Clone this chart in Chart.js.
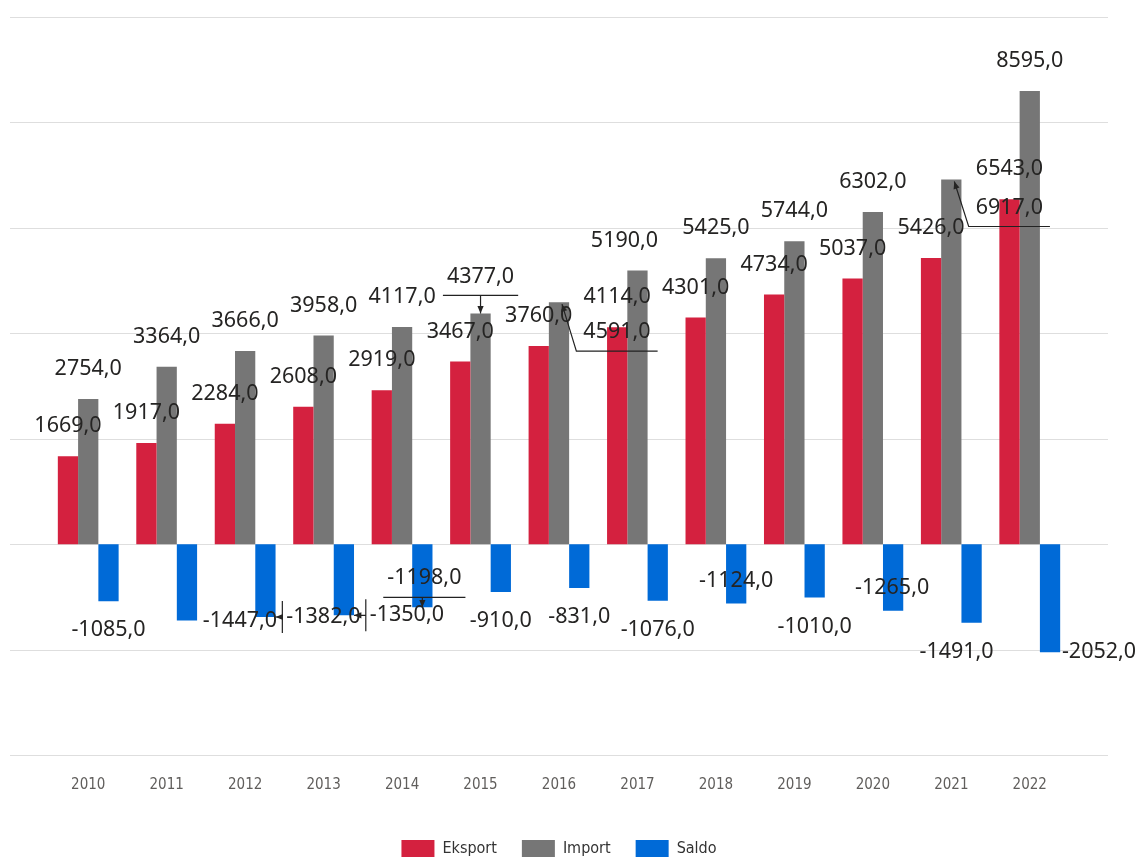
<!DOCTYPE html>
<html>
<head>
<meta charset="utf-8">
<script src="https://cdn.jsdelivr.net/npm/chart.js@4/dist/chart.umd.min.js"></script>
<style>
    html, body { margin: 0; padding: 0; background: #ffffff; }
    #wrap { width: 1143px; height: 857px; position: relative; }
</style>
</head>
<body>
<div id="wrap"><canvas id="tradeChart"></canvas></div>
<script>
// data
const years = ['2010', '2011', '2012', '2013', '2014', '2015', '2016', '2017', '2018', '2019', '2020', '2021', '2022'];
const eksport = [1669, 1917, 2284, 2608, 2919, 3467, 3760, 4114, 4301, 4734, 5037, 5426, 6543];
const importVals = [2754, 3364, 3666, 3958, 4117, 4377, 4591, 5190, 5425, 5744, 6302, 6917, 8595];
const saldo = [-1085, -1447, -1382, -1350, -1198, -910, -831, -1076, -1124, -1010, -1265, -1491, -2052];
const seriesNames = ['Eksport', 'Import', 'Saldo'];
const yMin = -4000;
const yMax = 10000;
const yStep = 2000;

let red = '#D4213F';
let grey = '#767676';
let blue = '#006AD7';
let labelText = '#252423';
let tickText = '#605E5C';
let gridColor = '#dedede';
const labelFont = '21.5px "Segoe UI", "Noto Sans", sans-serif';
const smallFont = '"DejaVu Sans Condensed", "Noto Sans", sans-serif';

// where the value labels were moved off their default spot (key = dataset-index)
const labelTweaks = {
    '1-5': { dy: -37, leader: 'under' },
    '1-6': { dx: 58, dy: 30, leader: 'elbow' },
    '1-7': { dx: -13 },
    '1-11': { dx: 58, dy: 28, leader: 'elbow' },
    '2-1': { dx: 53, dy: 0 },
    '2-2': { dx: 58, dy: 0, leader: 'side' },
    '2-3': { dx: 63, dy: 0, leader: 'side' },
    '2-4': { dx: 2, dy: -29, leader: 'under' },
    '2-8': { dy: -23 },
    '2-10': { dx: -1, dy: -23 },
    '2-11': { dx: -15 },
    '2-12': { dx: 49, dy: 0 }
};

function formatValue(v) {
    return v.toFixed(1).replace('.', ',');
}

function arrowHead(ctx, fromX, fromY, toX, toY) {
    const ang = Math.atan2(toY - fromY, toX - fromX);
    const len = 8;
    ctx.beginPath();
    ctx.moveTo(toX, toY);
    ctx.lineTo(toX - len * Math.cos(ang - 0.4), toY - len * Math.sin(ang - 0.4));
    ctx.lineTo(toX - len * Math.cos(ang + 0.4), toY - len * Math.sin(ang + 0.4));
    ctx.closePath();
    ctx.fill();
}

const gridPlugin = {
    id: 'wideGrid',
    beforeDatasetsDraw(chart) {
        const ctx = chart.ctx;
        const y = chart.scales.y;
        ctx.save();
        ctx.strokeStyle = gridColor;
        ctx.lineWidth = 1.2;
        for (let v = yMin; v <= yMax; v += yStep) {
            const py = Math.round(y.getPixelForValue(v)) + 0.5;
            ctx.beginPath();
            ctx.moveTo(10, py);
            ctx.lineTo(1108, py);
            ctx.stroke();
        }
        ctx.restore();
    }
};

const valueLabels = {
    id: 'valueLabels',
    afterDatasetsDraw(chart) {
        const ctx = chart.ctx;
        ctx.save();
        ctx.font = labelFont;
        ctx.textAlign = 'center';
        ctx.textBaseline = 'middle';
        ctx.fillStyle = labelText;
        ctx.strokeStyle = '#222222';
        ctx.lineWidth = 1.2;

        chart.data.datasets.forEach((ds, di) => {
            const meta = chart.getDatasetMeta(di);
            meta.data.forEach((bar, i) => {
                const v = ds.data[i];
                const tw = labelTweaks[di + '-' + i] || {};
                const ax = bar.x;
                const ay = bar.y;
                const dx = tw.dx || 0;
                const dy = tw.dy !== undefined ? tw.dy : (v >= 0 ? -30 : 29);
                const lx = ax + dx;
                const ly = ay + dy;
                const text = formatValue(v);
                const w = ctx.measureText(text).width;
                ctx.fillText(text, lx, ly);

                if (tw.leader === 'under') {
                    const lineY = ly + 19;
                    ctx.beginPath();
                    ctx.moveTo(lx - w / 2 - 4, lineY);
                    ctx.lineTo(lx + w / 2 + 4, lineY);
                    ctx.moveTo(ax, lineY);
                    ctx.lineTo(ax, ay);
                    ctx.stroke();
                    arrowHead(ctx, ax, lineY, ax, ay);
                } else if (tw.leader === 'elbow') {
                    const lineY = ly + 19;
                    const left = lx - w / 2 - 7;
                    ctx.beginPath();
                    ctx.moveTo(lx + w / 2 + 7, lineY);
                    ctx.lineTo(left, lineY);
                    ctx.lineTo(ax + 3, ay + 2);
                    ctx.stroke();
                    arrowHead(ctx, left, lineY, ax + 3, ay + 2);
                } else if (tw.leader === 'side') {
                    const vx = lx - w / 2 - 4;
                    const edge = ax + bar.width / 2;
                    ctx.beginPath();
                    ctx.moveTo(vx, ly - 16);
                    ctx.lineTo(vx, ly + 16);
                    ctx.moveTo(vx, ly);
                    ctx.lineTo(edge, ly);
                    ctx.stroke();
                    arrowHead(ctx, vx, ly, edge, ly);
                }
            });
        });
        ctx.restore();
    }
};

const ctx = document.getElementById('tradeChart').getContext('2d');
const chart = new Chart(ctx, {
    type: 'bar',
    data: {
        labels: years,
        datasets: [
            { label: seriesNames[0], data: eksport, backgroundColor: red },
            { label: seriesNames[1], data: importVals, backgroundColor: grey },
            { label: seriesNames[2], data: saldo, backgroundColor: blue }
        ]
    },
    options: {
        responsive: true,
        maintainAspectRatio: false,
        animation: false,
        datasets: {
            bar: {
                categoryPercentage: 0.775,
                barPercentage: 1.0
            }
        },
        layout: {
            padding: { left: 49, right: 74, top: 17, bottom: -10 }
        },
        scales: {
            x: {
                grid: { display: false },
                border: { display: false },
                ticks: {
                    color: tickText,
                    padding: 13,
                    font: { family: smallFont, size: 15 }
                },
                afterFit: (scale) => { scale.height = 60; }
            },
            y: {
                display: false,
                min: yMin,
                max: yMax,
                ticks: { stepSize: yStep }
            }
        },
        plugins: {
            legend: {
                position: 'bottom',
                labels: {
                    boxWidth: 33,
                    boxHeight: 17,
                    padding: 25,
                    color: '#333333',
                    font: { family: smallFont, size: 16 }
                }
            },
            tooltip: { enabled: false }
        }
    },
    plugins: [gridPlugin, valueLabels]
});
</script>
</body>
</html>
